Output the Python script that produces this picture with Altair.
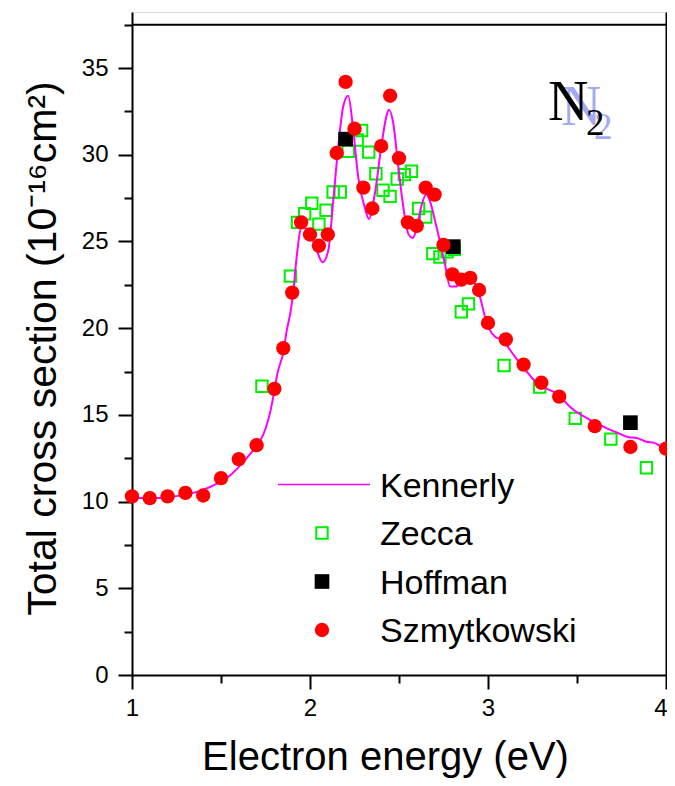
import altair as alt
import pandas as pd

# ---------------- data ----------------
kennerly_x = [1.00, 1.10, 1.20, 1.30, 1.38, 1.45, 1.50, 1.55, 1.60, 1.64,
              1.68, 1.72, 1.75, 1.775, 1.80, 1.815, 1.85, 1.87, 1.89, 1.905,
              1.925, 1.953, 1.975, 2.00, 2.037, 2.071, 2.103, 2.131, 2.159, 2.187,
              2.215, 2.239, 2.271, 2.309, 2.331, 2.365, 2.403, 2.431, 2.444, 2.468,
              2.496, 2.524, 2.552, 2.577, 2.60, 2.625, 2.652, 2.675, 2.70, 2.73,
              2.76, 2.787, 2.82, 2.86, 2.90, 2.93, 2.955, 2.983, 3.01, 3.04,
              3.07, 3.10, 3.124, 3.17, 3.217, 3.25, 3.29, 3.34, 3.386, 3.42,
              3.46, 3.50, 3.526, 3.583, 3.625, 3.667, 3.72, 3.78, 3.84, 3.89,
              3.93, 3.966, 4.00]
kennerly_y = [10.2, 10.2, 10.25, 10.4, 10.6, 10.9, 11.15, 11.5, 12.0, 12.45,
              12.95, 13.5, 14.2, 15.1, 16.4, 17.3, 18.6, 19.9, 20.9, 22.0,
              24.1, 25.8, 25.75, 25.45, 24.5, 23.8, 24.5, 27.4, 30.5, 32.8,
              33.4, 31.8, 28.7, 26.9, 26.3, 27.8, 30.65, 32.3, 32.6, 31.8,
              29.3, 27.0, 25.45, 25.2, 25.8, 27.0, 27.7, 27.3, 26.3, 25.0,
              23.6, 22.4, 22.4, 22.8, 22.8, 22.5, 21.8, 20.66, 19.9, 19.5,
              19.35, 19.1, 18.74, 18.1, 17.5, 17.1, 16.72, 16.45, 16.24, 15.9,
              15.47, 15.15, 14.99, 14.66, 14.45, 14.22, 14.0, 13.74, 13.65, 13.45,
              13.4, 13.22, 13.1]

zecca_x = [1.73, 1.89, 1.93, 1.97, 2.01, 2.05, 2.09, 2.13, 2.17, 2.215,
           2.265, 2.29, 2.33, 2.37, 2.41, 2.45, 2.49, 2.53, 2.57, 2.61,
           2.65, 2.69, 2.73, 2.77, 2.81, 2.85, 2.89, 3.09, 3.29, 3.49,
           3.69, 3.89]
zecca_y = [16.65, 23.0, 26.1, 26.6, 27.2, 26.0, 26.8, 27.85, 27.85, 30.2,
           30.85, 31.4, 30.15, 28.9, 27.95, 27.6, 28.6, 28.85, 29.05, 26.9,
           26.4, 24.3, 24.1, 24.4, 24.55, 20.95, 21.4, 17.85, 16.6, 14.8,
           13.6, 11.95]

hoffman_x = [2.20, 2.805, 3.80]
hoffman_y = [30.9, 24.7, 14.55]

szmyt_x = [1.0, 1.1, 1.2, 1.3, 1.4, 1.5, 1.6, 1.7, 1.8, 1.85,
           1.9, 1.95, 2.0, 2.05, 2.1, 2.15, 2.2, 2.25, 2.3, 2.35,
           2.4, 2.45, 2.5, 2.55, 2.6, 2.65, 2.7, 2.75, 2.8, 2.85,
           2.9, 2.95, 3.0, 3.1, 3.2, 3.3, 3.4, 3.6, 3.8, 4.0]
szmyt_y = [10.3, 10.2, 10.3, 10.5, 10.35, 11.35, 12.45, 13.25, 16.5, 18.85,
           22.05, 26.1, 25.4, 24.75, 25.4, 30.1, 34.2, 31.5, 28.1, 26.9,
           30.5, 33.4, 29.8, 26.1, 25.9, 28.1, 27.7, 24.8, 23.1, 22.8,
           22.9, 22.2, 20.3, 19.35, 17.9, 16.85, 16.05, 14.35, 13.15, 13.05]

legend_labels = ["Kennerly", "Zecca", "Hoffman", "Szmytkowski"]

x_major = [1, 2, 3]
x_last = [4]
x_minor = [1.5, 2.5, 3.5]
y_major = [0, 5, 10, 15, 20, 25, 30, 35]
y_minor = [2.5, 7.5, 12.5, 17.5, 22.5, 27.5, 32.5, 37.5]
frame_top = 37.5

# ---------------- styling ----------------
W, H = 534, 663
Y_TOP = 38.23
FONT = "Liberation Sans"
MAGENTA = "#ff00ff"
GREEN = "#00ee00"
RED = "#ff0000"

xs = alt.Scale(domain=[1, 4], nice=False, zero=False)
ys = alt.Scale(domain=[0, Y_TOP], nice=False, zero=False)

common_axis = dict(grid=False, domainColor="black", tickColor="black",
                   domainWidth=2, tickWidth=2, labelFont=FONT, titleFont=FONT,
                   labelColor="black", titleColor="black")

x_axis_major = alt.Axis(values=x_major, format="d", tickSize=14, labelFontSize=24,
                        labelPadding=26, labelBaseline="alphabetic", labelFlush=False,
                        title="Electron energy (eV)", titleFontSize=40,
                        titleFontWeight="normal", titleX=253, titleY=94,
                        titleAlign="center", titleBaseline="alphabetic",
                        orient="bottom", **common_axis)
x_axis_last = alt.Axis(values=x_last, format="d", tickSize=14, labelFontSize=24,
                       labelPadding=26, labelBaseline="alphabetic", labelFlush=True,
                       labelFlushOffset=1, domain=False, title=None,
                       orient="bottom", **common_axis)
x_axis_minor = alt.Axis(values=x_minor, tickSize=8, labels=False, domain=False,
                        title=None, orient="bottom", **common_axis)

y_axis_major = alt.Axis(values=y_major, format="d", tickSize=14, labelFontSize=24,
                        labelPadding=10, labelFlush=False,
                        title="Total cross section (10⁻¹⁶cm²)",
                        titleFontSize=41, titleFontWeight="normal", titleAngle=-90,
                        titleX=-77, titleY=336, titleAlign="center",
                        titleBaseline="alphabetic", orient="left", **common_axis)
y_axis_minor = alt.Axis(values=y_minor, tickSize=8, labels=False, domain=False,
                        title=None, orient="left", **common_axis)
y_axis_right = alt.Axis(values=y_major, tickSize=4, labels=False, domain=True,
                        title=None, orient="right", **common_axis)

zecca_df = pd.DataFrame({"x": zecca_x, "y": zecca_y})
ken_df = pd.DataFrame({"x": kennerly_x, "y": kennerly_y})
hof_df = pd.DataFrame({"x": hoffman_x, "y": hoffman_y})
sz_df = pd.DataFrame({"x": szmyt_x, "y": szmyt_y})

zecca = alt.Chart(zecca_df).mark_point(
    shape="square", filled=False, color=GREEN, strokeWidth=2, size=130, opacity=1
).encode(
    x=alt.X("x:Q", scale=xs, axis=x_axis_major),
    y=alt.Y("y:Q", scale=ys, axis=y_axis_major),
)

kennerly = alt.Chart(ken_df).mark_line(
    color=MAGENTA, strokeWidth=2, interpolate="monotone"
).encode(
    x=alt.X("x:Q", scale=xs, axis=x_axis_minor),
    y=alt.Y("y:Q", scale=ys, axis=y_axis_minor),
)

hoffman = alt.Chart(hof_df).mark_point(
    shape="square", filled=True, color="black", size=215, opacity=1
).encode(
    x=alt.X("x:Q", scale=xs, axis=x_axis_last),
    y=alt.Y("y:Q", scale=ys, axis=y_axis_right),
)

szmyt = alt.Chart(sz_df).mark_point(
    shape="circle", filled=True, color=RED, size=205, opacity=1
).encode(
    x=alt.X("x:Q", scale=xs, axis=None),
    y=alt.Y("y:Q", scale=ys, axis=None),
)

base_one = pd.DataFrame({"k": [0]})

top_line = alt.Chart(base_one).mark_rule(color="black", strokeWidth=2).encode(
    y=alt.YDatum(frame_top, scale=ys, axis=None),
    x=alt.value(0), x2=alt.value(W),
)

# N2 label with a pale shadow
n_shadow = alt.Chart(base_one).mark_text(
    text="N", font="Liberation Serif", fontSize=56, color="#a3aaf2",
    align="left", baseline="alphabetic").encode(x=alt.value(429), y=alt.value(113))
two_shadow = alt.Chart(base_one).mark_text(
    text="2", font="Liberation Serif", fontSize=37, color="#a3aaf2",
    align="left", baseline="alphabetic").encode(x=alt.value(462), y=alt.value(127))
n_label = alt.Chart(base_one).mark_text(
    text="N", font="Liberation Serif", fontSize=56, color="black",
    align="left", baseline="alphabetic").encode(x=alt.value(416), y=alt.value(108))
two_label = alt.Chart(base_one).mark_text(
    text="2", font="Liberation Serif", fontSize=37, color="black",
    align="left", baseline="alphabetic").encode(x=alt.value(454), y=alt.value(123))

# legend
LX_TEXT, LX_MARK = 248, 190
ROW0, ROWSTEP = 472.5, 48.5

leg_line = alt.Chart(base_one).mark_rule(color=MAGENTA, strokeWidth=1.5).encode(
    x=alt.value(146), x2=alt.value(238), y=alt.value(ROW0))
leg_zecca = alt.Chart(base_one).mark_point(
    shape="square", filled=False, color=GREEN, strokeWidth=2, size=130, opacity=1
).encode(x=alt.value(LX_MARK), y=alt.value(ROW0 + ROWSTEP))
leg_hof = alt.Chart(base_one).mark_point(
    shape="square", filled=True, color="black", size=215, opacity=1
).encode(x=alt.value(LX_MARK), y=alt.value(ROW0 + 2 * ROWSTEP))
leg_sz = alt.Chart(base_one).mark_point(
    shape="circle", filled=True, color=RED, size=205, opacity=1
).encode(x=alt.value(LX_MARK), y=alt.value(ROW0 + 3 * ROWSTEP))

leg_texts = [
    alt.Chart(pd.DataFrame({"label": [lab]})).mark_text(
        font=FONT, fontSize=34, color="black", align="left", baseline="middle"
    ).encode(x=alt.value(LX_TEXT), y=alt.value(ROW0 + 2 + i * ROWSTEP), text="label:N")
    for i, lab in enumerate(legend_labels)
]

chart = alt.layer(
    zecca, kennerly, hoffman, szmyt, top_line,
    n_shadow, two_shadow, n_label, two_label,
    leg_line, leg_zecca, leg_hof, leg_sz, *leg_texts,
).resolve_axis(
    x="independent", y="independent"
).properties(
    width=W, height=H,
    autosize=alt.AutoSizeParams(type="none"),
    padding={"left": 124, "top": 4, "right": 1, "bottom": 103},
).configure_view(
    stroke=None
).configure(
    font=FONT
)

chart.save("out.html", embed_options={"renderer": "svg", "actions": False})
